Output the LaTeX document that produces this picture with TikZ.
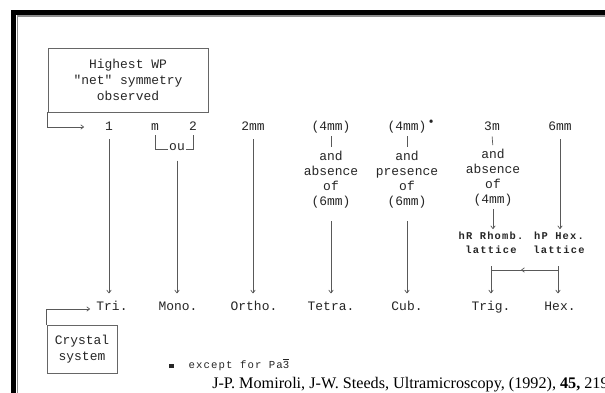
\documentclass[tikz,border=0pt]{standalone}
\usepackage{fontspec}
\setmonofont{Liberation Mono}
\newfontfamily\citefont{Liberation Serif}
\newfontfamily\spacedmono[LetterSpace=12]{Liberation Mono}
\newfontfamily\notemono[LetterSpace=10]{Liberation Mono}
\usetikzlibrary{arrows.meta,decorations.markings}
\tikzset{
  lbl/.style={font=\ttfamily\fontsize{9.2}{10.6}\selectfont, text=black!85, inner sep=1pt,
    text height=7pt, text depth=2pt},
  cond/.style={font=\ttfamily\fontsize{9.2}{10.6}\selectfont, text=black!85, align=center, inner sep=1pt},
  latt/.style={font=\spacedmono\bfseries\fontsize{7.4}{10}\selectfont, text=black!85, align=center, inner sep=1pt},
  boxed/.style={draw=black!60, line width=0.6pt, align=center, inner sep=0pt,
    font=\ttfamily\fontsize{9.2}{11.4}\selectfont, text=black!85},
  note/.style={font=\notemono\fontsize{7.6}{9}\selectfont, text=black!85, inner sep=0pt},
  arr/.style={-{To[length=2.5pt,width=3.5pt]}, draw=black!65, line width=0.5pt,
    shorten <=3pt, shorten >=4pt},
  tick/.style={draw=black!65, line width=0.5pt},
  midarr/.style={tick, decoration={markings,
    mark=at position 0.55 with {\arrow{To[length=2.5pt,width=3.5pt]}}}, postaction=decorate},
}

\begin{document}
\begin{tikzpicture}[x=0.025cm, y=-0.025cm]
\useasboundingbox (0,0) rectangle (605,393);
\clip (0,0) rectangle (605,393);
\fill[white] (0,0) rectangle (605,393);

% frame
\draw[line width=3.6pt] (13.5,420) |- (640,12.5);
\draw[black!45, line width=1.1pt] (17.5,420) |- (640,16.2);

% boxes
\node[boxed, minimum width=4cm, minimum height=1.6cm] (wpbox) at (128,80)
  {Highest WP\\"net" symmetry\\observed};
\node[boxed, minimum width=1.75cm, minimum height=1.2cm] (crystal) at (82,349)
  {Crystal\\system};

% point symmetries
\node[lbl] (s1) at (109,127) {1};
\node[lbl] (sm) at (155,127) {m};
\node[lbl] (s2) at (193,127) {2};
\node[lbl] (s2mm) at (253,127) {2mm};
\node[lbl] (s4mmA) at (331,127) {(4mm)};
\node[lbl] (s4mmB) at (407,127) {(4mm)\rlap{\raisebox{5pt}{\,\tiny$\bullet$}}};
\node[lbl] (s3m) at (492,127) {3m};
\node[lbl] (s6mm) at (560,127) {6mm};
\node[lbl, text height=4pt] (ou) at (177,149) {ou};

% conditions
\node[cond] (condtetra) at (331,180) {and\\absence\\of\\(6mm)};
\node[cond] (condcub) at (407,180) {and\\presence\\of\\(6mm)};
\node[cond] (condtrig) at (493,178) {and\\absence\\of\\(4mm)};
\node[latt] (rhomb) at (491,243) {hR Rhomb.\\lattice};
\node[latt] (hexlat) at (559,243) {hP Hex.\\lattice};

% crystal systems
\node[lbl] (tri) at (112,307) {Tri.};
\node[lbl] (mono) at (178,307) {Mono.};
\node[lbl] (ortho) at (254,307) {Ortho.};
\node[lbl] (tetra) at (331,307) {Tetra.};
\node[lbl] (cub) at (407,307) {Cub.};
\node[lbl] (trig) at (491,307) {Trig.};
\node[lbl] (hex) at (560,307) {Hex.};

\coordinate (topin) at (84,127);
\coordinate (sysin) at (90,309);
\coordinate (trigtop) at (491,266);
\coordinate (hextop) at (558,266);
\coordinate (barL) at (491,270);
\coordinate (barR) at (558,270);

\draw[arr, shorten <=0pt, shorten >=0pt] (wpbox.south west) |- (topin);
\draw[arr, shorten <=0pt, shorten >=0pt] (crystal.north west) |- (sysin);

\draw[arr] (s1.south) -- (s1.south |- tri.north);
\draw[tick] (sm.south) |- (ou.west);
\draw[tick] (s2.south) |- (ou.east);
\draw[arr, shorten <=4pt] (ou.south) -- (ou.south |- mono.north);
\draw[arr] (s2mm.south) -- (s2mm.south |- ortho.north);

\draw[tick, shorten <=1pt, shorten >=2pt] (s4mmA.south) -- (condtetra.north);
\draw[tick, shorten <=1pt, shorten >=2pt] (s4mmB.south) -- (condcub.north);
\draw[tick, shorten <=1pt, shorten >=2pt] (s3m.south) -- (condtrig.north);
\draw[arr, shorten <=8pt] (condtetra.south) -- (tetra.north);
\draw[arr, shorten <=8pt] (condcub.south) -- (cub.north);
\draw[arr, shorten <=1pt, shorten >=1pt] (condtrig.south) -- (condtrig.south |- rhomb.north);
\draw[arr, shorten >=1pt] (s6mm.south) -- (s6mm.south |- hexlat.north);

\draw[midarr] (barR) -- (barL);
\draw[arr, shorten <=0pt] (trigtop) -- (trigtop |- trig.north);
\draw[arr, shorten <=0pt] (hextop) -- (hextop |- hex.north);

% notes
\node[note, anchor=west] (fnote) at (169,365)
  {\raisebox{0.5pt}{\rule{3.2pt}{3.2pt}}\ \ except for Pa\ensuremath{\overline{\mbox{3}}}};
\node[anchor=base west, inner sep=0pt, font=\citefont\fontsize{11.5}{14}\selectfont] (cite) at (212,388)
  {J-P. Momiroli, J-W. Steeds, Ultramicroscopy, (1992), \textbf{45,} 219};
\end{tikzpicture}
\end{document}
